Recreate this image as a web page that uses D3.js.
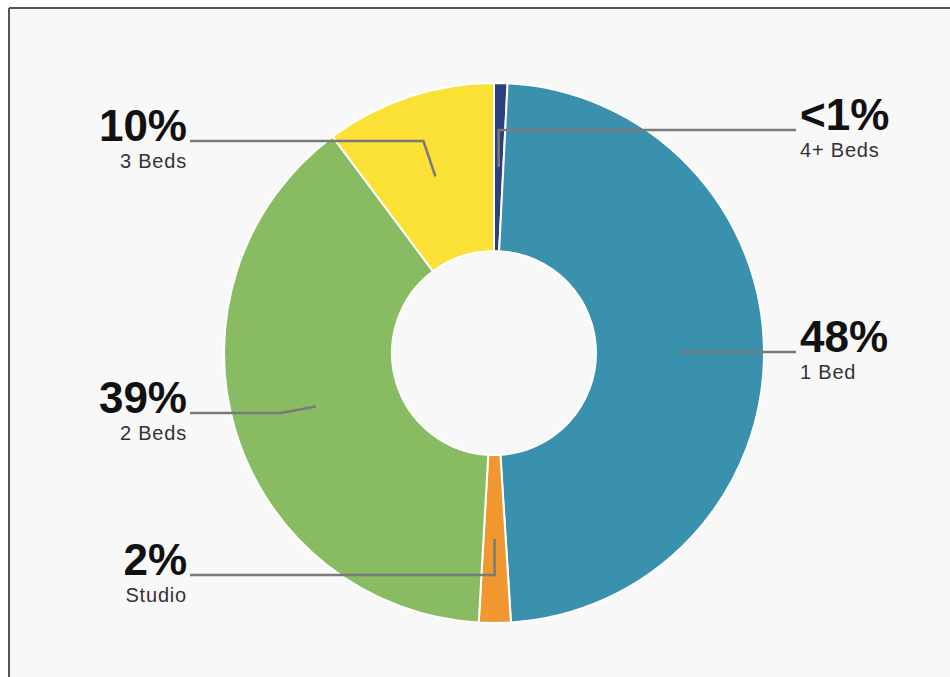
<!DOCTYPE html>
<html lang="en">
<head>
<meta charset="UTF-8">
<title>Unit mix donut</title>
<script src="https://d3js.org/d3.v7.min.js"></script>
<style>
  html, body { margin: 0; padding: 0; background: #fff; }
  .pct { font-family: "Liberation Sans", Arial, sans-serif; font-weight: bold; font-size: 44px; fill: #111; }
  .sub { font-family: "Liberation Sans", Arial, sans-serif; font-size: 20px; fill: #333; letter-spacing: 0.8px; }
  .leader { fill: none; stroke: #7a7a7a; stroke-width: 2.5; }
</style>
</head>
<body>
<svg width="950" height="677"></svg>
<script>
// data, clockwise from 12 o'clock
const categories = ["4+ Beds", "1 Bed", "Studio", "2 Beds", "3 Beds"];
const shares = [0.8, 48.2, 1.9, 38.9, 10.2];
const pctLabels = ["<1%", "48%", "2%", "39%", "10%"];
const colors = ["#2c3f7e", "#3a91ad", "#f0972f", "#89bc62", "#fbe036"];

// label layout: side, baseline y, elbow offset from anchor
const labelSide = ["right", "right", "left", "left", "left"];
const labelY = [130, 352, 575, 413, 141];
const elbowDx = [0, 0, 0, -35, -12];

const svg = d3.select("svg");
const W = 950, H = 677;

// panel with top/left frame
svg.append("rect").attr("x", 9).attr("y", 8).attr("width", W - 9).attr("height", H - 8).attr("fill", "#f8f8f8");
svg.append("line").attr("x1", 9).attr("x2", W).attr("y1", 8).attr("y2", 8).attr("stroke", "#555").attr("stroke-width", 2);
svg.append("line").attr("x1", 9).attr("x2", 9).attr("y1", 8).attr("y2", H).attr("stroke", "#555").attr("stroke-width", 2);

const cx = 494, cy = 353, outerR = 270, innerR = 102, anchorR = 186;

const pie = d3.pie().sort(null).value(d => d);
const arcs = pie(shares);
const arc = d3.arc().innerRadius(innerR).outerRadius(outerR);
const anchorArc = d3.arc().innerRadius(anchorR).outerRadius(anchorR);

const g = svg.append("g").attr("transform", `translate(${cx},${cy})`);

g.selectAll("path.slice")
  .data(arcs)
  .enter().append("path")
  .attr("class", "slice")
  .attr("d", arc)
  .attr("fill", (d, i) => colors[i])
  .attr("stroke", "#fff")
  .attr("stroke-width", 2);

// leader lines
const leftX = 190 - cx, rightX = 796 - cx;
g.selectAll("path.leader")
  .data(arcs)
  .enter().append("path")
  .attr("class", "leader")
  .attr("d", (d, i) => {
    const [ax, ay] = anchorArc.centroid(d);
    const ly = labelY[i] - cy;
    const ex = ax + elbowDx[i];
    const endX = labelSide[i] === "left" ? leftX : rightX;
    return d3.line()([[ax, ay], [ex, ly], [endX, ly]]);
  });

// labels
const lab = svg.append("g");
categories.forEach((c, i) => {
  const left = labelSide[i] === "left";
  const x = left ? 187 : 800;
  const anchor = left ? "end" : "start";
  lab.append("text").attr("class", "pct").attr("x", x).attr("y", labelY[i])
    .attr("text-anchor", anchor).text(pctLabels[i]);
  lab.append("text").attr("class", "sub").attr("x", x).attr("y", labelY[i] + 27)
    .attr("text-anchor", anchor).text(c);
});
</script>
</body>
</html>
